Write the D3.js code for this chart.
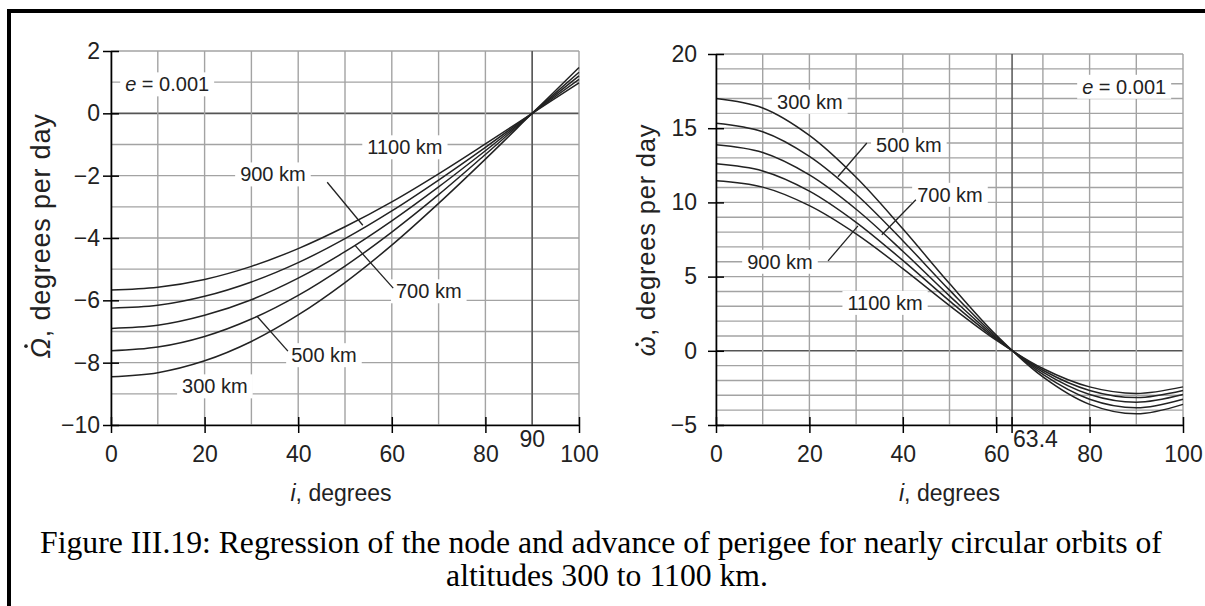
<!DOCTYPE html>
<html><head><meta charset="utf-8">
<script src="https://cdn.jsdelivr.net/npm/d3@7"></script>
<style>body{margin:0;background:#fff} svg{display:block}</style>
</head><body><svg id="c" width="1205" height="606"></svg>
<script>
// ---------- data ----------
const inclination = [0, 10, 20, 30, 40, 50, 60, 70, 80, 90, 100];
const altitudes = ["300 km", "500 km", "700 km", "900 km", "1100 km"];
// node regression rate, degrees per day
const node300  = [-8.45, -8.32, -7.94, -7.32, -6.47, -5.43, -4.23, -2.89, -1.47, 0, 1.47];
const node500  = [-7.62, -7.50, -7.16, -6.60, -5.84, -4.90, -3.81, -2.61, -1.32, 0, 1.32];
const node700  = [-6.90, -6.80, -6.48, -5.98, -5.29, -4.44, -3.45, -2.36, -1.20, 0, 1.20];
const node900  = [-6.25, -6.16, -5.87, -5.41, -4.79, -4.02, -3.13, -2.14, -1.09, 0, 1.09];
const node1100 = [-5.67, -5.58, -5.33, -4.91, -4.34, -3.64, -2.84, -1.94, -0.98, 0, 0.98];
// perigee advance rate, degrees per day
const perigee300  = [17.00, 16.36, 14.51, 11.69, 8.22, 4.53, 1.06, -1.76, -3.61, -4.25, -3.61];
const perigee500  = [15.34, 14.76, 13.10, 10.55, 7.42, 4.09, 0.96, -1.59, -3.26, -3.84, -3.26];
const perigee700  = [13.88, 13.36, 11.85, 9.54, 6.71, 3.70, 0.87, -1.44, -2.95, -3.47, -2.95];
const perigee900  = [12.60, 12.12, 10.76, 8.66, 6.09, 3.36, 0.79, -1.31, -2.67, -3.15, -2.67];
const perigee1100 = [11.46, 11.03, 9.78, 7.88, 5.54, 3.05, 0.72, -1.19, -2.43, -2.87, -2.43];
const leftYTicks = [2, 0, -2, -4, -6, -8, -10];
const rightYTicks = [20, 15, 10, 5, 0, -5];
const xTicks = [0, 20, 40, 60, 80, 100];
const leftSpecialX = 90;
const rightSpecialX = 63.4;

const SANS = "'Liberation Sans', Arial, Helvetica, sans-serif";
const svg = d3.select("#c");

// page frame
svg.append("line").attr("x1", 9).attr("x2", 9).attr("y1", 9).attr("y2", 606).attr("stroke", "#000").attr("stroke-width", 4);
svg.append("line").attr("x1", 7).attr("x2", 1205).attr("y1", 11).attr("y2", 11).attr("stroke", "#000").attr("stroke-width", 4);

function panel(o) {
  const g = svg.append("g");
  const x = d3.scaleLinear().domain([0, 100]).range(o.xr);
  const y = d3.scaleLinear().domain(o.yd).range(o.yr);
  // grid
  const grid = g.append("g");
  grid.selectAll("line.h").data(d3.range(o.yd[0], o.yd[1] + 1, 1)).join("line")
    .attr("x1", x(0)).attr("x2", x(100)).attr("y1", d => y(d)).attr("y2", d => y(d))
    .attr("stroke", d => d === 0 ? "#555" : "#a3a3a3").attr("stroke-width", d => d === 0 ? 1.6 : 1.4);
  grid.selectAll("line.v").data(d3.range(0, 101, 10)).join("line")
    .attr("x1", d => x(d)).attr("x2", d => x(d)).attr("y1", y(o.yd[0])).attr("y2", y(o.yd[1]))
    .attr("stroke", "#a3a3a3").attr("stroke-width", 1.4);
  grid.append("line").attr("x1", x(o.special)).attr("x2", x(o.special))
    .attr("y1", y(o.yd[0])).attr("y2", y(o.yd[1])).attr("stroke", "#555").attr("stroke-width", 1.5);

  // annotations with white boxes
  const ann = g.append("g");
  o.labels.forEach(L => {
    const t = ann.append("text").attr("x", x(L.i)).attr("y", y(L.v)).attr("dy", "0.35em")
      .attr("text-anchor", "middle").attr("font-family", SANS).attr("font-size", 20).attr("fill", "#222");
    if (L.italic) {
      t.append("tspan").attr("font-style", "italic").text(L.italic);
      t.append("tspan").text(L.text);
    } else t.text(L.text);
    const b = t.node().getBBox();
    ann.insert("rect", () => t.node()).attr("x", b.x - 5).attr("y", b.y - 1)
      .attr("width", b.width + 10).attr("height", b.height + 2).attr("fill", "#fff");
    if (L.lead) {
      ann.append("line").attr("x1", x(L.lead[0])).attr("y1", y(L.lead[1]))
        .attr("x2", x(L.lead[2])).attr("y2", y(L.lead[3])).attr("stroke", "#222").attr("stroke-width", 1.3);
    }
  });

  // curves
  const line = d3.line().x((d, k) => x(inclination[k])).y(d => y(d)).curve(d3.curveCatmullRom);
  g.append("g").selectAll("path").data(o.series).join("path")
    .attr("d", line).attr("fill", "none").attr("stroke", "#222").attr("stroke-width", 1.5);

  // axes
  const ya = g.append("g").attr("transform", `translate(${x(0)},0)`)
    .call(d3.axisLeft(y).tickValues(o.yTicks).tickSize(8).tickSizeOuter(0).tickPadding(o.yPad).tickFormat(d3.format("d")));
  ya.selectAll(".tick line").attr("x1", 8).attr("stroke-width", 1.5);
  ya.select(".domain").attr("stroke-width", 1.6);
  ya.selectAll("text").attr("font-family", SANS).attr("font-size", 23).attr("fill", "#222");

  const xa = g.append("g").attr("transform", `translate(0,${y(o.yd[0])})`)
    .call(d3.axisBottom(x).tickValues(xTicks).tickSize(8).tickSizeOuter(0).tickPadding(13));
  xa.selectAll(".tick line").attr("y1", -8).attr("stroke-width", 1.5);
  xa.select(".domain").attr("stroke-width", 1.6);
  xa.selectAll("text").attr("font-family", SANS).attr("font-size", 23).attr("fill", "#222");

  // special x label
  if (o.specialTick) {
    g.append("line").attr("x1", x(o.special)).attr("x2", x(o.special))
      .attr("y1", y(o.yd[0]) - 8).attr("y2", y(o.yd[0]) + 8).attr("stroke", "#000").attr("stroke-width", 1.5);
  }
  g.append("text").attr("x", x(o.special) + o.specialDx).attr("y", y(o.yd[0]) + 22)
    .attr("text-anchor", o.specialAnchor).attr("font-family", SANS).attr("font-size", 23).attr("fill", "#222")
    .text(o.special);

  // axis titles
  const xt = g.append("text").attr("x", x(50) + o.xtDx).attr("y", y(o.yd[0]) + 76)
    .attr("text-anchor", "middle").attr("font-family", SANS).attr("font-size", 23).attr("fill", "#222");
  xt.append("tspan").attr("font-style", "italic").text("i");
  xt.append("tspan").text(", degrees");

  const yg = g.append("g").attr("transform", `translate(${o.ytX},${o.ytY}) rotate(-90)`);
  const yt = yg.append("text").attr("font-family", SANS).attr("font-size", o.ytSize)
    .attr("letter-spacing", 0.8).attr("fill", "#222");
  const sym = yt.append("tspan").attr("font-style", "italic").text(o.sym);
  yt.append("tspan").text(", degrees per day");
  const w = yt.node().getComputedTextLength();
  const sw = sym.node().getComputedTextLength();
  yt.attr("x", -w / 2);
  yg.append("circle").attr("cx", -w / 2 + sw * 0.58).attr("cy", o.dotY).attr("r", 1.8).attr("fill", "#222");
}

panel({
  xr: [111, 579], yd: [-10, 2], yr: [425, 51],
  series: [node300, node500, node700, node900, node1100],
  yTicks: leftYTicks, yPad: 3, special: leftSpecialX, specialTick: false,
  specialDx: 0, specialAnchor: "middle", xtDx: -4, ytX: 50, ytY: 236, ytSize: 27, sym: "\u03A9", dotY: -24,
  labels: [
    {i: 12.0, v: 0.93, italic: "e", text: " = 0.001"},
    {i: 62.8, v: -1.09, text: altitudes[4]},
    {i: 34.6, v: -1.96, text: altitudes[3], lead: [46.2, -2.21, 53.8, -3.59]},
    {i: 67.9, v: -5.71, text: altitudes[2], lead: [52.1, -4.23, 60.3, -5.61]},
    {i: 45.5, v: -7.76, text: altitudes[1], lead: [31.2, -6.51, 37.8, -7.63]},
    {i: 22.2, v: -8.76, text: altitudes[0]}
  ]
});

panel({
  xr: [716, 1183], yd: [-5, 20], yr: [425, 54],
  series: [perigee300, perigee500, perigee700, perigee900, perigee1100],
  yTicks: rightYTicks, yPad: 11, special: rightSpecialX, specialTick: true,
  specialDx: 1, specialAnchor: "start", xtDx: 0, ytX: 655, ytY: 240, ytSize: 25.5, sym: "\u03C9", dotY: -18,
  labels: [
    {i: 87.4, v: 17.79, italic: "e", text: " = 0.001"},
    {i: 20.1, v: 16.78, text: altitudes[0]},
    {i: 41.3, v: 13.88, text: altitudes[1], lead: [26.1, 11.73, 32.3, 14.0]},
    {i: 50.1, v: 10.51, text: altitudes[2], lead: [42.8, 10.18, 35.5, 7.82]},
    {i: 13.7, v: 6.0, text: altitudes[3], lead: [24.0, 6.06, 30.4, 8.42]},
    {i: 36.2, v: 3.23, text: altitudes[4]}
  ]
});

// caption
const cap = svg.append("text").attr("text-anchor", "middle").attr("font-family", "'Liberation Serif', 'Times New Roman', serif")
  .attr("font-size", 31.7).attr("fill", "#000");
cap.append("tspan").attr("x", 601).attr("y", 553).text("Figure III.19: Regression of the node and advance of perigee for nearly circular orbits of");
cap.append("tspan").attr("x", 607).attr("y", 586).text("altitudes 300 to 1100 km.");
</script></body></html>
